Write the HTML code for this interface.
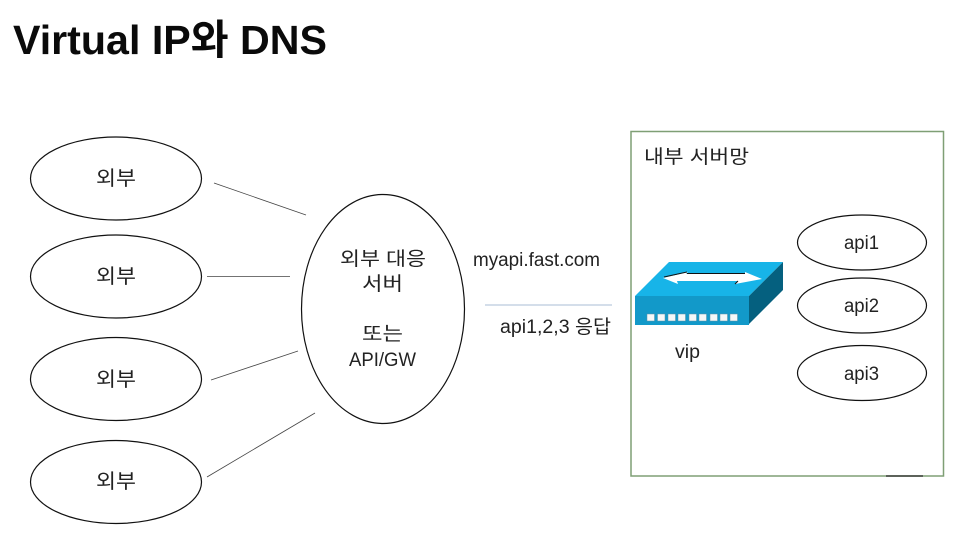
<!DOCTYPE html>
<html>
<head>
<meta charset="utf-8">
<style>
html,body{margin:0;padding:0;background:#fff;width:975px;height:551px;overflow:hidden}
svg{display:block}
text{font-family:"Liberation Sans","Noto Sans CJK KR",sans-serif;fill:#222}
</style>
</head>
<body>
<svg width="975" height="551" viewBox="0 0 975 551" xmlns="http://www.w3.org/2000/svg">
<rect width="975" height="551" fill="#fff"/>
<text x="13" y="54" font-size="41" font-weight="700" style="fill:#0a0a0a" textLength="314" lengthAdjust="spacingAndGlyphs">Virtual IP와 DNS</text>

<g fill="#fff" stroke="#111" stroke-width="1.2">
<ellipse cx="116" cy="178.500" rx="85.500" ry="41.500"/>
<ellipse cx="116" cy="276.500" rx="85.500" ry="41.500"/>
<ellipse cx="116" cy="379" rx="85.500" ry="41.500"/>
<ellipse cx="116" cy="482" rx="85.500" ry="41.500"/>
<ellipse cx="383" cy="309" rx="81.500" ry="114.500"/>
<ellipse cx="862" cy="242.500" rx="64.500" ry="27.500"/>
<ellipse cx="862" cy="305.500" rx="64.500" ry="27.500"/>
<ellipse cx="862" cy="373" rx="64.500" ry="27.500"/>
</g>

<g stroke="#444" stroke-width="0.8">
<line x1="214" y1="183" x2="306" y2="215"/>
<line x1="207" y1="276.500" x2="290" y2="276.500"/>
<line x1="211" y1="380" x2="298" y2="351"/>
<line x1="207" y1="477" x2="315" y2="413"/>
</g>
<line x1="485" y1="305" x2="612" y2="305" stroke="#a9bcd6" stroke-width="1.1"/>

<rect x="631" y="131.500" width="312.500" height="344.500" fill="none" stroke="#7f9f75" stroke-width="1.5"/>
<line x1="886" y1="476" x2="923" y2="476" stroke="#222" stroke-width="1.2"/>

<g font-size="20">
<text x="96" y="185" textLength="40" lengthAdjust="spacingAndGlyphs">외부</text>
<text x="96" y="283" textLength="40" lengthAdjust="spacingAndGlyphs">외부</text>
<text x="96" y="386" textLength="40" lengthAdjust="spacingAndGlyphs">외부</text>
<text x="96" y="488" textLength="40" lengthAdjust="spacingAndGlyphs">외부</text>
</g>
<g font-size="19">
<text x="340" y="265" textLength="86" lengthAdjust="spacingAndGlyphs">외부 대응</text>
<text x="362" y="290" textLength="41" lengthAdjust="spacingAndGlyphs">서버</text>
<text x="362" y="340" textLength="41" lengthAdjust="spacingAndGlyphs">또는</text>
<text x="349" y="366" textLength="67" lengthAdjust="spacingAndGlyphs">API/GW</text>
<text x="844" y="249" textLength="35" lengthAdjust="spacingAndGlyphs">api1</text>
<text x="844" y="312" textLength="35" lengthAdjust="spacingAndGlyphs">api2</text>
<text x="844" y="380" textLength="35" lengthAdjust="spacingAndGlyphs">api3</text>
<text x="473" y="266" textLength="127" lengthAdjust="spacingAndGlyphs">myapi.fast.com</text>
<text x="500" y="333" textLength="111" lengthAdjust="spacingAndGlyphs">api1,2,3 응답</text>
<text x="644" y="163" textLength="105" lengthAdjust="spacingAndGlyphs">내부 서버망</text>
<text x="675" y="358" textLength="25" lengthAdjust="spacingAndGlyphs">vip</text>
</g>

<!-- switch icon -->
<polygon points="635,296 669,262 783,262 749,296" fill="#17b4e8"/>
<polygon points="749,296 783,262 783,290 749,324" fill="#05607f"/>
<rect x="635" y="296" width="114" height="29" fill="#1299c9"/>
<polygon points="663,278 688,272 686,274 745,274 745,272 762,279 735,284 738,281 677,281 678,284" fill="#fff"/>
<path d="M664,277 L687,272 M687,273.500 H745 M735,284 L738,281" stroke="#111" stroke-width="1" fill="none"/>
<g fill="#f4f8f8" stroke="#5e8fa3" stroke-width="0.5">
<rect x="647" y="314" width="7.500" height="7"/>
<rect x="657.500" y="314" width="7.500" height="7"/>
<rect x="668" y="314" width="7.500" height="7"/>
<rect x="678" y="314" width="7.500" height="7"/>
<rect x="689" y="314" width="7.500" height="7"/>
<rect x="699" y="314" width="7.500" height="7"/>
<rect x="710" y="314" width="7.500" height="7"/>
<rect x="720" y="314" width="7.500" height="7"/>
<rect x="730" y="314" width="7.500" height="7"/>
</g>
</svg>
</body>
</html>
